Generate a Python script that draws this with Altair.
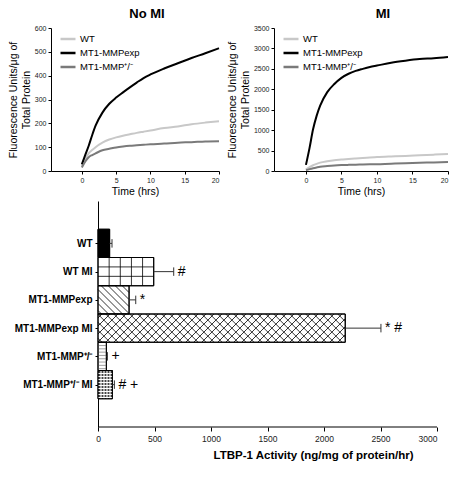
import altair as alt
import pandas as pd

FONT = "Liberation Sans"

# ---------------- data ----------------
hours = [0, 0.5, 1, 1.5, 2, 3, 4, 5, 6, 7, 8, 9, 10, 12, 14, 16, 18, 20]
series_names = ["WT", "MT1-MMPexp", "MT1-MMP⁺/⁻"]
series_colors = ["#c8c8c8", "#000000", "#7a7a7a"]

nomi_wt = [19, 50, 74, 88, 100, 119, 132, 141, 148, 154, 160, 165, 170, 180, 187, 196, 203, 209]
nomi_exp = [28, 68, 106, 150, 190, 245, 282, 308, 330, 351, 371, 390, 405, 430, 452, 474, 494, 515]
nomi_het = [15, 40, 58, 67, 74, 87, 93, 99, 103, 106, 108, 110, 112, 115, 119, 121, 124, 125]

mi_wt = [38, 95, 140, 175, 205, 240, 265, 280, 295, 307, 318, 330, 340, 355, 368, 385, 400, 417]
mi_exp = [150, 560, 1020, 1350, 1600, 1930, 2130, 2280, 2380, 2450, 2500, 2545, 2580, 2650, 2700, 2740, 2760, 2790]
mi_het = [20, 45, 68, 88, 106, 122, 135, 144, 150, 155, 159, 163, 167, 180, 190, 200, 210, 220]

groups = ["WT", "WT MI", "MT1-MMPexp", "MT1-MMPexp MI", "MT1-MMP⁺/⁻", "MT1-MMP⁺/⁻ MI"]
activity = [103, 493, 275, 2188, 74, 127]
activity_err = [124, 670, 334, 2504, 83, 145]
sig_marks = ["", "#", "*", "* #", "+", "# +"]
bar_fills = ["#000000", "#ffffff", "#ffffff", "#ffffff", "#ffffff", "#3c3c3c"]
patterns = ["none", "grid", "diag", "cross", "hlines", "checker"]

# ---------------- top panels ----------------
def long_df(wt, exp, het):
    rows = []
    for name, vals in zip(series_names, [wt, exp, het]):
        for t, v in zip(hours, vals):
            rows.append({"t": t, "v": v, "series": name})
    return pd.DataFrame(rows)


TOP_H = 143


def panel(df, title, ymax, ystep, dx, width):
    return alt.Chart(df).mark_line(strokeWidth=2, interpolate="monotone").encode(
        x=alt.X("t:Q", scale=alt.Scale(domain=[-4.5, 20], nice=False, zero=False),
                axis=alt.Axis(values=[0, 5, 10, 15, 20], title="Time (hrs)", grid=False,
                              labelFontSize=7, titleFontSize=10.5, titleFontWeight="normal",
                              tickSize=3, labelPadding=2, titlePadding=3,
                              domainColor="black", tickColor="black", labelColor="#222",
                              titleColor="black")),
        y=alt.Y("v:Q", scale=alt.Scale(domain=[0, ymax], nice=False),
                axis=alt.Axis(values=list(range(0, ymax + 1, ystep)), format="d",
                              title=["Fluorescence Units/μg of", "Total Protein"], grid=False,
                              labelFontSize=7, titleFontSize=10.5, titleFontWeight="normal",
                              tickSize=3, labelPadding=2, titlePadding=3,
                              domainColor="black", tickColor="black", labelColor="#222",
                              titleColor="black")),
        color=alt.Color("series:N", scale=alt.Scale(domain=series_names, range=series_colors),
                        legend=alt.Legend(title=None, orient="none", legendX=8, legendY=2,
                                          symbolType="stroke", symbolStrokeWidth=2.5,
                                          symbolSize=225, labelFontSize=9.5, rowPadding=-5,
                                          labelOffset=3, labelColor="black")),
    ).properties(width=width, height=TOP_H,
                 title=alt.Title(title, fontSize=13, fontWeight="bold", dx=dx, offset=3,
                                 frame="group", color="black"))


left = panel(long_df(nomi_wt, nomi_exp, nomi_het), "No MI", 600, 100, 12, 168)
right = panel(long_df(mi_wt, mi_exp, mi_het), "MI", 3500, 500, 22, 174)
top_row = alt.hconcat(left, right, spacing=4).resolve_scale(color="independent")

# ---------------- bar chart ----------------
BAR_W = 339          # pixel length of 0..3000
AXIS_SHIFT = 47      # y axis drawn this far inside the plot rectangle
BAR_H = 226
XMAX = 3000
NSLOTS = 8
px_x = BAR_W / XMAX
px_y = BAR_H / NSLOTS
XMIN = -AXIS_SHIFT / px_x

bar_df = pd.DataFrame({
    "group": groups,
    "val": activity,
    "err": activity_err,
    "sig": sig_marks,
    "fill": bar_fills,
})
bar_df["y0"] = [i + 1 for i in range(len(groups))]
bar_df["y1"] = bar_df["y0"] + 1
bar_df["yc"] = bar_df["y0"] + 0.5
bar_df["c0"] = bar_df["yc"] - 0.15
bar_df["c1"] = bar_df["yc"] + 0.15
bar_df["zero"] = 0

base_df = pd.DataFrame({"x0": [0], "x1": [XMAX], "yb": [NSLOTS]})


def clip(xa, ya, xb, yb, W):
    if xa > xb:
        xa, ya, xb, yb = xb, yb, xa, ya
    if xb < 0 or xa > W:
        return None
    if xa < 0:
        ya = ya + (0 - xa) * (yb - ya) / (xb - xa)
        xa = 0
    if xb > W:
        yb = ya + (W - xa) * (yb - ya) / (xb - xa)
        xb = W
    return xa, ya, xb, yb


def diag_lines(y0, val, spacing_px, direction, color):
    """45-degree hatch lines clipped to one bar (computed in pixel space)."""
    W = val * px_x
    H = px_y
    segs = []
    c = -H + spacing_px / 2
    while c < W:
        if direction == "back":
            xa, ya, xb, yb = c, 0.0, c + H, H
        else:
            xa, ya, xb, yb = c + H, 0.0, c, H
        r = clip(xa, ya, xb, yb, W)
        if r:
            xa, ya, xb, yb = r
            segs.append({"x": xa / px_x, "x2": xb / px_x, "y": y0 + ya / px_y,
                         "y2": y0 + yb / px_y, "color": color, "w": 0.8})
        c += spacing_px
    return segs


pat_rows = []
for i, (p, v) in enumerate(zip(patterns, activity)):
    y0 = i + 1
    if p == "grid":
        for k in range(1, 5):
            pat_rows.append({"x": v * k / 5, "x2": v * k / 5, "y": y0, "y2": y0 + 1,
                             "color": "black", "w": 0.8})
        for k in (1, 2):
            pat_rows.append({"x": 0, "x2": v, "y": y0 + k / 3, "y2": y0 + k / 3,
                             "color": "black", "w": 0.8})
    elif p == "diag":
        pat_rows += diag_lines(y0, v, 7, "back", "black")
    elif p == "cross":
        pat_rows += diag_lines(y0, v, 8, "back", "black")
        pat_rows += diag_lines(y0, v, 8, "fwd", "black")
    elif p == "hlines":
        k = 1
        while k * 3.3 < px_y:
            yy = y0 + k * 3.3 / px_y
            pat_rows.append({"x": 0, "x2": v, "y": yy, "y2": yy, "color": "#888888", "w": 0.8})
            k += 1
    elif p == "checker":
        k = 1
        while k * 3 < px_y:
            yy = y0 + k * 3 / px_y
            pat_rows.append({"x": 0, "x2": v, "y": yy, "y2": yy, "color": "#ffffff", "w": 1.1})
            k += 1
        k = 1
        while k * 3 < v * px_x:
            xx = k * 3 / px_x
            pat_rows.append({"x": xx, "x2": xx, "y": y0, "y2": y0 + 1, "color": "#ffffff", "w": 1.1})
            k += 1
pat_df = pd.DataFrame(pat_rows)

label_js = "[" + ",".join("'" + g + "'" for g in groups) + "]"

xscale = alt.Scale(domain=[XMIN, XMAX], nice=False, zero=False)
yscale = alt.Scale(domain=[0, NSLOTS], reverse=True, nice=False, zero=False)

xaxis = alt.Axis(values=list(range(0, XMAX + 1, 500)), format="d",
                 title="LTBP-1 Activity (ng/mg of protein/hr)", grid=False, domain=False,
                 labelFontSize=8.5, titleFontSize=11.5, titleFontWeight="bold",
                 tickSize=4, labelPadding=3, titlePadding=7, titleX=AXIS_SHIFT + 215,
                 tickColor="black", labelColor="#222", titleColor="black")
yaxis = alt.Axis(values=[i + 1.5 for i in range(len(groups))],
                 labelExpr=label_js + "[floor(datum.value) - 1]",
                 title=None, grid=False, labelFontSize=10, labelFontWeight="bold",
                 tickSize=3, labelPadding=3, domainColor="black", offset=-AXIS_SHIFT,
                 tickColor="black", labelColor="black")

bars = alt.Chart(bar_df).mark_rect(stroke="black", strokeWidth=1).encode(
    x=alt.X("zero:Q", scale=xscale, axis=xaxis),
    x2="val:Q",
    y=alt.Y("y0:Q", scale=yscale, axis=yaxis),
    y2="y1:Q",
    fill=alt.Fill("fill:N", scale=None, legend=None),
)

pattern = alt.Chart(pat_df).mark_rule().encode(
    x=alt.X("x:Q", scale=xscale, axis=xaxis),
    x2="x2:Q",
    y=alt.Y("y:Q", scale=yscale, axis=yaxis),
    y2="y2:Q",
    color=alt.Color("color:N", scale=None, legend=None),
    strokeWidth=alt.StrokeWidth("w:Q", scale=None, legend=None),
)

outline = alt.Chart(bar_df).mark_rect(fill=None, stroke="black", strokeWidth=1).encode(
    x=alt.X("zero:Q", scale=xscale, axis=xaxis), x2="val:Q",
    y=alt.Y("y0:Q", scale=yscale, axis=yaxis), y2="y1:Q",
)

err = alt.Chart(bar_df).mark_rule(color="#333333", strokeWidth=1).encode(
    x=alt.X("val:Q", scale=xscale, axis=xaxis), x2="err:Q",
    y=alt.Y("yc:Q", scale=yscale, axis=yaxis),
)
cap = alt.Chart(bar_df).mark_rule(color="#333333", strokeWidth=1).encode(
    x=alt.X("err:Q", scale=xscale, axis=xaxis),
    y=alt.Y("c0:Q", scale=yscale, axis=yaxis), y2="c1:Q",
)
sig = alt.Chart(bar_df).mark_text(align="left", baseline="middle", dx=4, fontSize=14,
                                  color="black").encode(
    x=alt.X("err:Q", scale=xscale, axis=xaxis),
    y=alt.Y("yc:Q", scale=yscale, axis=yaxis),
    text="sig:N",
)
baseline = alt.Chart(base_df).mark_rule(color="black", strokeWidth=1).encode(
    x=alt.X("x0:Q", scale=xscale, axis=xaxis), x2="x1:Q",
    y=alt.Y("yb:Q", scale=yscale, axis=yaxis),
)

bar_chart = alt.layer(bars, pattern, outline, err, cap, sig, baseline).properties(
    width=BAR_W + AXIS_SHIFT, height=BAR_H)

chart = alt.vconcat(top_row, bar_chart, spacing=4).properties(
    padding=0).configure(font=FONT).configure_view(stroke=None)

chart.save("out.html", embed_options={"renderer": "svg", "actions": False})
